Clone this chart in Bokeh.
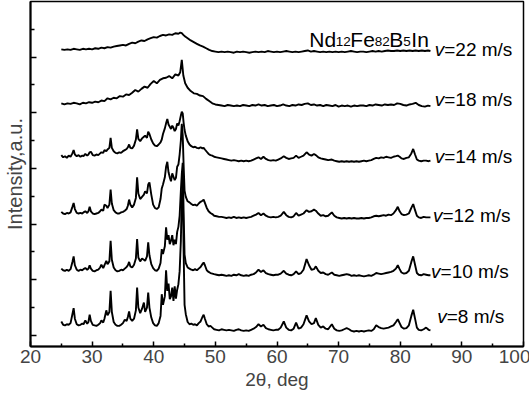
from bokeh.plotting import figure
from bokeh.models import Range1d, FixedTicker, CustomJSTickFormatter, Label
from bokeh.embed import file_html
from bokeh.resources import INLINE
from bokeh.core.properties import value

# ---------------- data ----------------
THETA_X = [
    25.0, 25.3, 25.6, 25.9, 26.2, 26.5, 26.8, 27.0, 27.2, 27.5,
    27.8, 28.1, 28.4, 28.6, 28.9, 29.2, 29.4, 29.6, 29.8, 30.1,
    30.4, 30.7, 31.0, 31.3, 31.5, 31.8, 32.0, 32.3, 32.5, 32.8,
    33.0, 33.2, 33.5, 33.8, 34.1, 34.4, 34.7, 35.0, 35.3, 35.6,
    35.8, 36.0, 36.2, 36.5, 36.8, 37.1, 37.3, 37.5, 37.8, 38.1,
    38.4, 38.6, 38.9, 39.1, 39.3, 39.6, 39.9, 40.2, 40.5, 40.8,
    41.1, 41.3, 41.5, 41.8, 42.0, 42.2, 42.4, 42.6, 42.8, 43.0,
    43.2, 43.4, 43.6, 43.8, 44.0, 44.2, 44.4, 44.55, 44.7, 44.85,
    45.0, 45.2, 45.5, 45.8, 46.1, 46.4, 46.7, 47.0, 47.3, 47.6,
    47.9, 48.1, 48.3, 48.6, 48.9, 49.2, 49.5, 49.8, 50.2, 50.6,
    51.0, 51.4, 51.8, 52.2, 52.6, 53.0, 53.4, 53.8, 54.2, 54.6,
    55.0, 55.4, 55.8, 56.2, 56.6, 57.0, 57.4, 57.8, 58.2, 58.6,
    59.0, 59.4, 59.8, 60.2, 60.6, 61.1, 61.5, 61.9, 62.3, 62.7,
    63.1, 63.5, 63.9, 64.3, 64.8, 65.2, 65.6, 66.0, 66.3, 66.7,
    67.1, 67.5, 67.9, 68.3, 68.9, 69.3, 69.7, 70.1, 70.5, 70.9,
    71.3, 71.7, 72.1, 72.5, 72.9, 73.3, 73.7, 74.1, 74.5, 74.9,
    75.3, 75.7, 76.1, 76.5, 76.9, 77.3, 77.7, 78.1, 78.5, 78.9,
    79.3, 79.6, 79.9, 80.2, 80.6, 81.0, 81.4, 81.8, 82.1, 82.4,
    82.7, 83.0, 83.4, 83.8, 84.2, 84.6, 84.9,
]

I_V8 = [
    0.25, 0.19, 0.18, 0.20, 0.19, 0.22, 0.38, 0.49, 0.30, 0.20,
    0.18, 0.19, 0.21, 0.20, 0.27, 0.21, 0.24, 0.37, 0.26, 0.19,
    0.18, 0.17, 0.19, 0.22, 0.27, 0.23, 0.30, 0.45, 0.36, 0.42,
    0.80, 0.42, 0.24, 0.19, 0.17, 0.17, 0.19, 0.22, 0.28, 0.26,
    0.33, 0.43, 0.30, 0.26, 0.30, 0.45, 0.86, 0.50, 0.40, 0.48,
    0.59, 0.42, 0.50, 0.77, 0.50, 0.32, 0.22, 0.18, 0.17, 0.22,
    0.35, 0.74, 0.55, 0.70, 1.17, 0.80, 0.93, 0.65, 0.70, 0.86,
    0.62, 0.88, 0.66, 0.82, 0.92, 1.15, 1.70, 2.50, 2.75, 1.50,
    0.55, 0.38, 0.24, 0.20, 0.21, 0.19, 0.20, 0.18, 0.22, 0.25,
    0.33, 0.37, 0.30, 0.20, 0.16, 0.17, 0.14, 0.11, 0.10, 0.09,
    0.11, 0.10, 0.09, 0.10, 0.09, 0.08, 0.10, 0.11, 0.09, 0.08,
    0.09, 0.08, 0.10, 0.12, 0.15, 0.20, 0.16, 0.19, 0.13, 0.11,
    0.10, 0.09, 0.10, 0.10, 0.14, 0.25, 0.14, 0.10, 0.09, 0.12,
    0.23, 0.12, 0.14, 0.20, 0.36, 0.25, 0.20, 0.22, 0.31, 0.19,
    0.14, 0.16, 0.12, 0.11, 0.20, 0.12, 0.09, 0.08, 0.09, 0.11,
    0.13, 0.11, 0.08, 0.07, 0.08, 0.07, 0.08, 0.07, 0.08, 0.09,
    0.08, 0.11, 0.18, 0.15, 0.13, 0.12, 0.13, 0.14, 0.16, 0.18,
    0.24, 0.29, 0.22, 0.15, 0.12, 0.13, 0.18, 0.35, 0.46, 0.30,
    0.14, 0.10, 0.09, 0.11, 0.14, 0.10, 0.09,
]

I_V10 = [
    0.20, 0.17, 0.16, 0.18, 0.16, 0.19, 0.32, 0.42, 0.26, 0.18,
    0.16, 0.18, 0.17, 0.19, 0.21, 0.18, 0.20, 0.26, 0.20, 0.16,
    0.15, 0.17, 0.18, 0.22, 0.27, 0.21, 0.26, 0.34, 0.28, 0.33,
    0.70, 0.36, 0.22, 0.17, 0.15, 0.16, 0.18, 0.17, 0.20, 0.23,
    0.26, 0.32, 0.24, 0.22, 0.27, 0.38, 0.73, 0.40, 0.33, 0.38,
    0.36, 0.34, 0.42, 0.67, 0.44, 0.28, 0.21, 0.17, 0.16, 0.20,
    0.30, 0.55, 0.46, 0.60, 0.94, 0.72, 0.80, 0.64, 0.70, 0.80,
    0.62, 0.72, 0.64, 0.86, 0.95, 1.15, 1.60, 1.90, 2.10, 1.20,
    0.45, 0.30, 0.22, 0.20, 0.18, 0.17, 0.19, 0.17, 0.20, 0.23,
    0.28, 0.31, 0.26, 0.17, 0.14, 0.12, 0.11, 0.10, 0.09, 0.08,
    0.09, 0.08, 0.07, 0.08, 0.07, 0.09, 0.08, 0.10, 0.08, 0.07,
    0.08, 0.07, 0.09, 0.10, 0.13, 0.18, 0.14, 0.17, 0.12, 0.10,
    0.09, 0.08, 0.09, 0.09, 0.11, 0.16, 0.11, 0.09, 0.08, 0.10,
    0.15, 0.10, 0.12, 0.18, 0.37, 0.26, 0.18, 0.19, 0.24, 0.16,
    0.12, 0.13, 0.10, 0.09, 0.13, 0.09, 0.08, 0.07, 0.08, 0.09,
    0.10, 0.09, 0.07, 0.08, 0.07, 0.08, 0.07, 0.06, 0.07, 0.08,
    0.07, 0.09, 0.12, 0.11, 0.10, 0.11, 0.12, 0.13, 0.14, 0.16,
    0.20, 0.26, 0.19, 0.13, 0.11, 0.12, 0.16, 0.32, 0.42, 0.27,
    0.12, 0.09, 0.08, 0.10, 0.09, 0.08, 0.08,
]

I_V12 = [
    0.17, 0.14, 0.13, 0.15, 0.14, 0.16, 0.26, 0.33, 0.22, 0.15,
    0.14, 0.15, 0.14, 0.16, 0.18, 0.15, 0.18, 0.26, 0.18, 0.14,
    0.13, 0.14, 0.15, 0.18, 0.21, 0.19, 0.30, 0.28, 0.24, 0.30,
    0.57, 0.32, 0.20, 0.16, 0.14, 0.14, 0.16, 0.17, 0.19, 0.22,
    0.28, 0.39, 0.30, 0.25, 0.30, 0.42, 0.79, 0.50, 0.40, 0.44,
    0.48, 0.54, 0.50, 0.66, 0.70, 0.48, 0.30, 0.24, 0.22, 0.25,
    0.40, 0.59, 0.66, 0.79, 0.98, 1.07, 0.88, 0.79, 0.72, 0.86,
    0.80, 0.74, 0.78, 0.98, 1.02, 1.20, 1.45, 1.75, 1.55, 1.00,
    0.55, 0.44, 0.36, 0.34, 0.31, 0.29, 0.30, 0.28, 0.32, 0.35,
    0.37, 0.39, 0.33, 0.24, 0.18, 0.15, 0.13, 0.10, 0.09, 0.08,
    0.08, 0.07, 0.06, 0.07, 0.06, 0.08, 0.06, 0.07, 0.06, 0.07,
    0.06, 0.07, 0.08, 0.10, 0.12, 0.15, 0.11, 0.14, 0.10, 0.08,
    0.07, 0.08, 0.07, 0.08, 0.10, 0.17, 0.11, 0.08, 0.07, 0.09,
    0.15, 0.10, 0.12, 0.14, 0.20, 0.17, 0.18, 0.21, 0.19, 0.14,
    0.10, 0.11, 0.09, 0.10, 0.16, 0.10, 0.07, 0.06, 0.05, 0.06,
    0.05, 0.06, 0.05, 0.06, 0.05, 0.05, 0.06, 0.05, 0.06, 0.06,
    0.07, 0.09, 0.10, 0.09, 0.10, 0.11, 0.10, 0.12, 0.11, 0.14,
    0.20, 0.26, 0.18, 0.13, 0.11, 0.12, 0.14, 0.24, 0.31, 0.20,
    0.10, 0.07, 0.06, 0.08, 0.07, 0.07, 0.07,
]

I_V14 = [
    0.17, 0.13, 0.15, 0.12, 0.16, 0.14, 0.20, 0.26, 0.18, 0.15,
    0.17, 0.14, 0.16, 0.15, 0.19, 0.16, 0.18, 0.22, 0.23, 0.17,
    0.16, 0.18, 0.17, 0.20, 0.22, 0.21, 0.26, 0.24, 0.27, 0.30,
    0.48, 0.30, 0.24, 0.21, 0.20, 0.22, 0.21, 0.24, 0.26, 0.28,
    0.31, 0.36, 0.30, 0.29, 0.34, 0.45, 0.63, 0.46, 0.42, 0.47,
    0.50, 0.52, 0.48, 0.59, 0.55, 0.45, 0.38, 0.34, 0.33, 0.36,
    0.40, 0.45, 0.55, 0.65, 0.74, 0.82, 0.72, 0.68, 0.64, 0.70,
    0.66, 0.60, 0.64, 0.74, 0.70, 0.78, 0.88, 0.95, 0.92, 0.75,
    0.62, 0.52, 0.42, 0.36, 0.33, 0.31, 0.32, 0.30, 0.29, 0.31,
    0.29, 0.30, 0.27, 0.23, 0.19, 0.17, 0.16, 0.14, 0.13, 0.12,
    0.11, 0.10, 0.09, 0.08, 0.07, 0.08, 0.07, 0.06, 0.07, 0.06,
    0.07, 0.06, 0.07, 0.09, 0.11, 0.13, 0.10, 0.14, 0.10, 0.08,
    0.07, 0.08, 0.07, 0.09, 0.11, 0.15, 0.12, 0.10, 0.11, 0.12,
    0.16, 0.12, 0.14, 0.16, 0.22, 0.18, 0.16, 0.19, 0.17, 0.13,
    0.11, 0.10, 0.09, 0.08, 0.09, 0.07, 0.06, 0.05, 0.06, 0.05,
    0.06, 0.05, 0.06, 0.05, 0.06, 0.05, 0.06, 0.07, 0.06, 0.07,
    0.08, 0.10, 0.12, 0.11, 0.13, 0.12, 0.14, 0.13, 0.12, 0.14,
    0.15, 0.16, 0.14, 0.11, 0.10, 0.12, 0.13, 0.20, 0.28, 0.18,
    0.09, 0.07, 0.06, 0.07, 0.07, 0.06, 0.07,
]

THETA_A = [
    25.0, 25.5, 26.0, 26.5, 27.0, 27.5, 28.0, 28.5, 29.0, 29.5,
    30.0, 30.5, 31.0, 31.5, 32.0, 32.5, 33.0, 33.5, 34.0, 34.5,
    35.0, 35.5, 36.0, 36.5, 37.0, 37.5, 38.0, 38.5, 39.0, 39.5,
    40.0, 40.5, 41.0, 41.5, 42.0, 42.5, 43.0, 43.5, 44.0, 44.3,
    44.55, 44.8, 45.1, 45.5, 46.0, 46.5, 47.0, 47.5, 48.0, 48.5,
    49.0, 49.5, 50.0, 50.5, 51.0, 51.5, 52.0, 52.5, 53.0, 53.5,
    54.0, 54.5, 55.0, 55.5, 56.0, 56.5, 57.0, 57.5, 58.0, 58.5,
    59.0, 59.5, 60.0, 60.5, 61.0, 61.5, 62.0, 62.5, 63.0, 63.5,
    64.0, 64.5, 65.0, 65.5, 66.0, 66.5, 67.0, 67.5, 68.0, 68.5,
    69.0, 69.5, 70.0, 70.5, 71.0, 71.5, 72.0, 72.5, 73.0, 73.5,
    74.0, 74.5, 75.0, 75.5, 76.0, 76.5, 77.0, 77.5, 78.0, 78.5,
    79.0, 79.5, 80.0, 80.5, 81.0, 81.5, 82.0, 82.5, 83.0, 83.5,
    84.0, 84.5, 84.9,
]

I_V18 = [
    0.12, 0.10, 0.12, 0.11, 0.13, 0.12, 0.10, 0.13, 0.12, 0.14,
    0.13, 0.15, 0.14, 0.17, 0.16, 0.21, 0.19, 0.22, 0.21, 0.25,
    0.24, 0.28, 0.27, 0.31, 0.36, 0.33, 0.38, 0.42, 0.40, 0.47,
    0.52, 0.48, 0.54, 0.57, 0.58, 0.61, 0.57, 0.64, 0.62, 0.68,
    0.90, 0.62, 0.48, 0.40, 0.34, 0.30, 0.29, 0.26, 0.25, 0.20,
    0.16, 0.12, 0.10, 0.09, 0.08, 0.07, 0.09, 0.08, 0.07, 0.08,
    0.07, 0.09, 0.08, 0.07, 0.09, 0.08, 0.10, 0.08, 0.09, 0.07,
    0.08, 0.09, 0.07, 0.08, 0.10, 0.08, 0.07, 0.09, 0.08, 0.10,
    0.09, 0.11, 0.12, 0.09, 0.10, 0.08, 0.09, 0.07, 0.09, 0.08,
    0.07, 0.09, 0.06, 0.08, 0.07, 0.08, 0.06, 0.08, 0.07, 0.08,
    0.08, 0.07, 0.09, 0.08, 0.10, 0.09, 0.08, 0.10, 0.09, 0.10,
    0.09, 0.12, 0.11, 0.09, 0.08, 0.10, 0.11, 0.13, 0.09, 0.07,
    0.06, 0.08, 0.07,
]

I_V22 = [
    0.11, 0.10, 0.11, 0.10, 0.12, 0.11, 0.10, 0.12, 0.11, 0.12,
    0.11, 0.13, 0.12, 0.14, 0.13, 0.15, 0.14, 0.16, 0.17, 0.18,
    0.19, 0.18, 0.21, 0.23, 0.22, 0.25, 0.27, 0.26, 0.29, 0.31,
    0.33, 0.32, 0.35, 0.37, 0.36, 0.38, 0.37, 0.40, 0.39, 0.41,
    0.40, 0.37, 0.34, 0.31, 0.27, 0.24, 0.21, 0.18, 0.16, 0.13,
    0.10, 0.08, 0.07, 0.06, 0.07, 0.06, 0.07, 0.06, 0.05, 0.07,
    0.06, 0.07, 0.06, 0.05, 0.06, 0.07, 0.06, 0.07, 0.06, 0.08,
    0.07, 0.06, 0.07, 0.06, 0.07, 0.08, 0.07, 0.06, 0.07, 0.06,
    0.07, 0.08, 0.09, 0.07, 0.08, 0.07, 0.06, 0.07, 0.06, 0.07,
    0.06, 0.07, 0.06, 0.07, 0.06, 0.07, 0.08, 0.07, 0.06, 0.07,
    0.07, 0.06, 0.07, 0.08, 0.07, 0.08, 0.07, 0.08, 0.09, 0.08,
    0.08, 0.09, 0.08, 0.09, 0.08, 0.09, 0.08, 0.09, 0.08, 0.09,
    0.08, 0.09, 0.08,
]

SPEEDS = ["8", "10", "12", "14", "18", "22"]
OFFSETS = [0.0, 1.0, 2.05, 3.07, 4.05, 5.03]

X_TICKS = [20, 30, 40, 50, 60, 70, 80, 90, 100]
X_MINOR = [25, 35, 45, 55, 65, 75, 85, 95]
Y_TICKS = [0, 1, 2, 3, 4, 5]
Y_MINOR = [0.5, 1.5, 2.5, 3.5, 4.5, 5.5]

# ---------------- layout / style ----------------
FONT = "Liberation Sans"
LABEL_X = [86.0, 85.0, 85.3, 85.6, 85.6, 85.6]
LABEL_Y = [0.34, 1.14, 2.16, 3.21, 4.23, 5.13]

p = figure(width=530, height=395, output_backend="svg", toolbar_location=None,
           x_range=Range1d(20, 100), y_range=Range1d(-0.2, 6.0),
           min_border_left=28, min_border_right=7, min_border_top=1,
           min_border_bottom=49)
p.xgrid.visible = False
p.ygrid.visible = False
p.outline_line_color = "black"
p.outline_line_width = 1.5
p.background_fill_color = "white"
p.border_fill_color = "white"

curves = [(THETA_X, I_V8), (THETA_X, I_V10), (THETA_X, I_V12),
          (THETA_X, I_V14), (THETA_A, I_V18), (THETA_A, I_V22)]
for (th, inten), off in zip(curves, OFFSETS):
    assert len(th) == len(inten)
    p.line(th, [off + v for v in inten], line_color="black", line_width=1.9)

xa = p.xaxis[0]
xa.ticker = FixedTicker(ticks=X_TICKS, minor_ticks=X_MINOR)
xa.axis_label = "2θ, deg"
xa.axis_label_text_font = FONT
xa.axis_label_text_font_style = "normal"
xa.axis_label_text_font_size = "19px"
xa.axis_label_standoff = 3
xa.major_label_text_font = FONT
xa.major_label_text_font_size = "19px"
xa.major_label_standoff = 3
xa.major_tick_in = 5
xa.major_tick_out = 0
xa.minor_tick_in = 3
xa.minor_tick_out = 0
xa.axis_line_width = 2
xa.major_tick_line_width = 1.5
xa.minor_tick_line_width = 1.5

ya = p.yaxis[0]
ya.ticker = FixedTicker(ticks=Y_TICKS, minor_ticks=Y_MINOR)
ya.formatter = CustomJSTickFormatter(code="return ''")
ya.axis_label = "Intensity,a.u."
ya.axis_label_text_font = FONT
ya.axis_label_text_font_style = "normal"
ya.axis_label_text_font_size = "20px"
ya.axis_label_standoff = 5
ya.major_label_standoff = 0
ya.major_tick_in = 6
ya.major_tick_out = 0
ya.minor_tick_in = 4
ya.minor_tick_out = 0
ya.axis_line_width = 2
ya.major_tick_line_width = 1.5
ya.minor_tick_line_width = 1.5

p.text(x=LABEL_X, y=LABEL_Y, text=["v"] * len(SPEEDS),
       text_font=value(FONT), text_font_style=value("italic"),
       text_font_size=value("19px"), text_baseline=value("middle"),
       text_align=value("left"), text_color="black")
p.text(x=LABEL_X, y=LABEL_Y, text=["=" + s + " m/s" for s in SPEEDS],
       x_offset=9.5, text_font=value(FONT), text_font_size=value("19px"),
       text_baseline=value("middle"), text_align=value("left"),
       text_color="black")

TITLE_PARTS = [("Nd", 0, False), ("12", 26.5, True), ("Fe", 41.0, False),
               ("82", 65.3, True), ("B", 79.8, False), ("5", 93.8, True),
               ("In", 102.0, False)]
for txt, dx, sub in TITLE_PARTS:
    p.add_layout(Label(x=65.25, y=5.28 if sub else 5.32, x_offset=dx, text=txt,
                       text_font=FONT, text_font_size="13.5px" if sub else "21px",
                       text_baseline="alphabetic", text_color="black"))

open("out.html", "w").write(file_html(p, INLINE))
